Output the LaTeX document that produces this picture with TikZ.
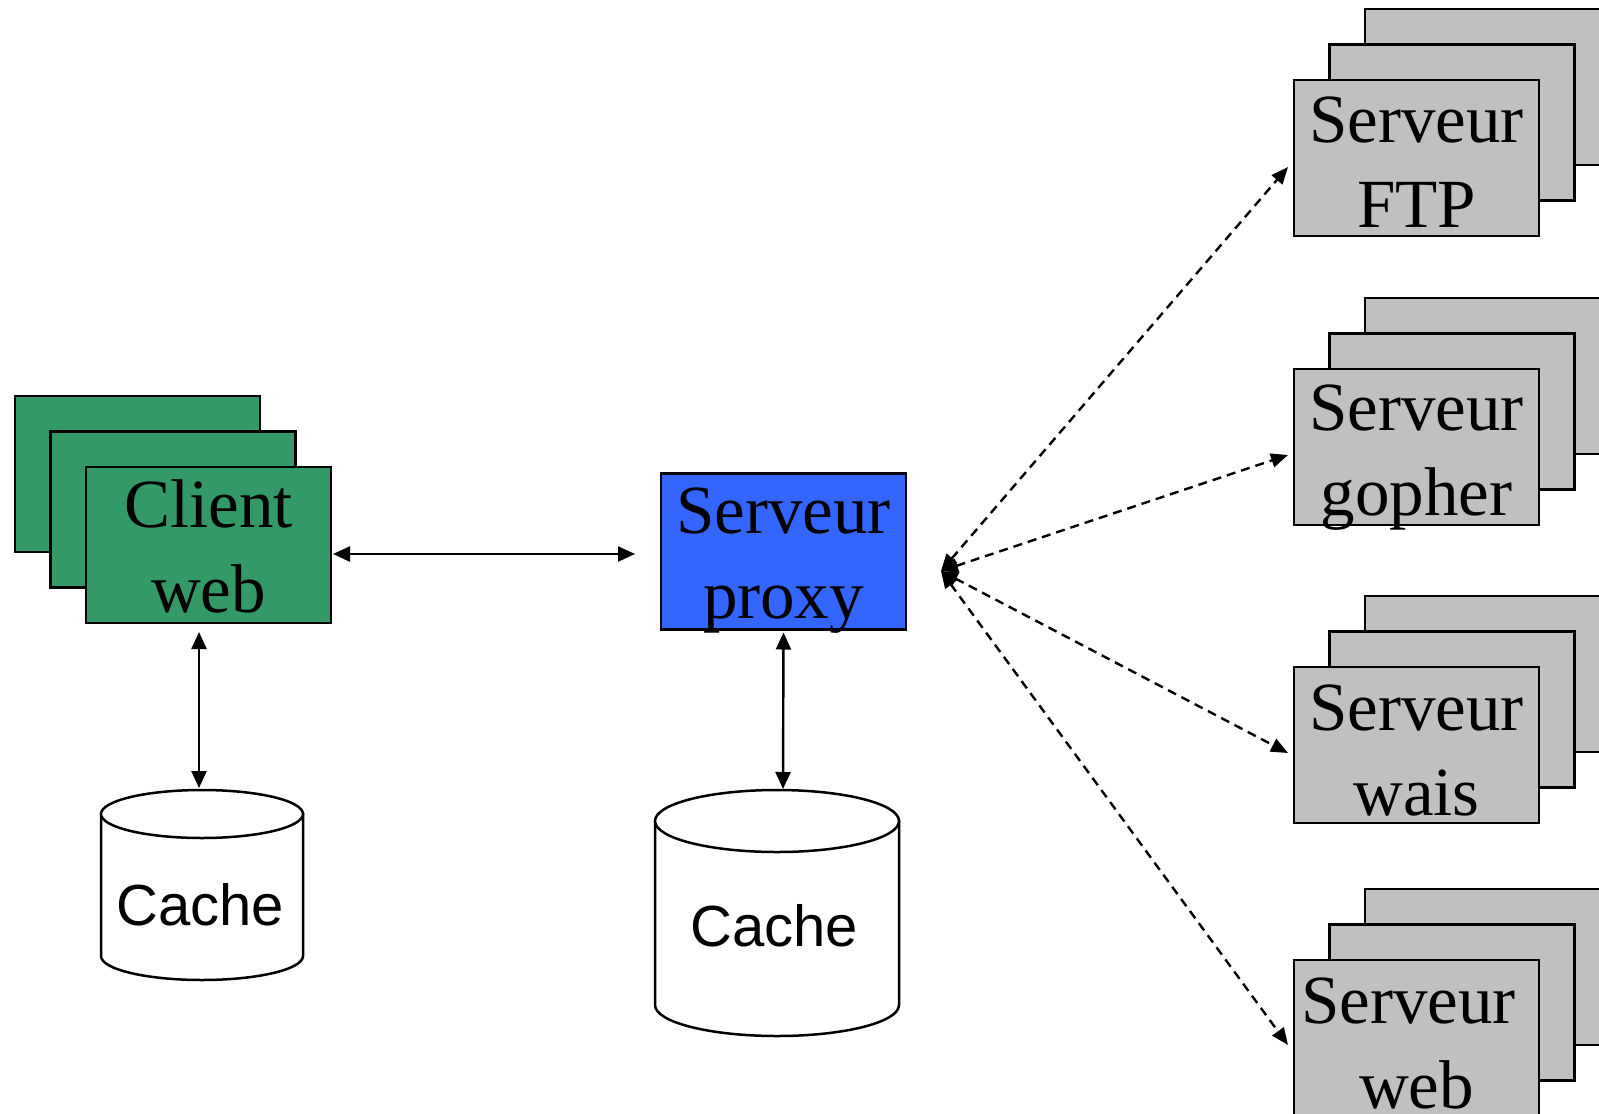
\documentclass[tikz,border=0pt]{standalone}
\usepackage{fontspec}
\setmainfont{Liberation Serif}
\newfontfamily\cachefont{Liberation Sans}
\usetikzlibrary{arrows.meta,calc}
\definecolor{clientgreen}{RGB}{51,153,102}
\definecolor{proxyblue}{RGB}{51,102,255}
\definecolor{servgray}{RGB}{192,192,192}
\begin{document}
\begin{tikzpicture}[x=1pt,y=-1pt,
  box/.style={draw=black, line width=2.5pt, minimum width=245pt, minimum height=156pt, inner sep=0pt, outer sep=0pt},
  gbox/.style={box, fill=clientgreen},
  bbox/.style={box, fill=proxyblue},
  sbox/.style={box, fill=servgray},
  lbl/.style={font=\fontsize{69}{85}\selectfont, inner sep=0pt, anchor=base},
  cachelbl/.style={font=\cachefont\fontsize{58}{70}\selectfont, inner sep=0pt, anchor=base},
  cyl/.style={draw=black, line width=2.5pt, fill=white},
  link/.style={line width=2.4pt, {Triangle[length=17pt,width=15pt]}-{Triangle[length=17pt,width=15pt]}},
  dlink/.style={line width=2.4pt, dash pattern=on 9pt off 6pt, {Triangle[length=17pt,width=14pt]}-{Triangle[length=17pt,width=14pt]}}
]
\clip (0,0) rectangle (1599,1114);
\fill[white] (0,0) rectangle (1599,1114);

% client stack
\node[gbox] (client3) at (137.5,474) {};
\node[gbox] (client2) at (173,509.5) {};
\node[gbox] (client) at (208.5,545) {};
\node[lbl] (clientA) at ($(client.north)+(0,60)$) {Client};
\node[lbl] (clientB) at ($(client.north)+(0,145)$) {web};

% proxy
\node[bbox] (proxy) at (783.5,551.5) {};
\node[lbl] (proxyA) at ($(proxy.north)+(0,60)$) {Serveur};
\node[lbl] (proxyB) at ($(proxy.north)+(0,145)$) {proxy};

% server stacks
\node[sbox] (ftp3) at (1487.5,87) {};
\node[sbox] (ftp2) at (1452,122.5) {};
\node[sbox] (ftp) at (1416.5,158) {};
\node[lbl] (ftpA) at ($(ftp.north)+(0,62)$) {Serveur};
\node[lbl] (ftpB) at ($(ftp.north)+(0,147)$) {FTP};

\node[sbox] (gopher3) at (1487.5,376) {};
\node[sbox] (gopher2) at (1452,411.5) {};
\node[sbox] (gopher) at (1416.5,447) {};
\node[lbl] (gopherA) at ($(gopher.north)+(0,61)$) {Serveur};
\node[lbl] (gopherB) at ($(gopher.north)+(0,146)$) {gopher};

\node[sbox] (wais3) at (1487.5,674) {};
\node[sbox] (wais2) at (1452,709.5) {};
\node[sbox] (wais) at (1416.5,745) {};
\node[lbl] (waisA) at ($(wais.north)+(0,63)$) {Serveur};
\node[lbl] (waisB) at ($(wais.north)+(0,148)$) {wais};

\node[sbox] (web3) at (1487.5,967) {};
\node[sbox] (web2) at (1452,1002.5) {};
\node[sbox] (web) at (1416.5,1038) {};
\node[lbl] (webA) at ($(web.north)+(-8,63)$) {Serveur};
\node[lbl] (webB) at ($(web.north)+(0,148)$) {web};

% caches
\path[cyl] (101,814) -- (101,956) arc[start angle=180,end angle=0,x radius=101,y radius=24] -- (303,814) -- cycle;
\draw[cyl] (202,814) ellipse [x radius=101,y radius=24];
\node[cachelbl] (cache1) at (200,925) {Cache};
\coordinate (c1top) at (199,788);

\path[cyl] (655,821) -- (655,1005) arc[start angle=180,end angle=0,x radius=122,y radius=31] -- (899,821) -- cycle;
\draw[cyl] (777,821) ellipse [x radius=122,y radius=31];
\node[cachelbl] (cache2) at (774,946) {Cache};
\coordinate (c2top) at (783,789);

% solid links
\draw[link] ($(client.east)+(2,9)$) -- ($(proxy.west)+(-26,2.5)$);
\draw[link] ($(client.south)+(-9.5,9)$) -- (c1top);
\draw[link] ($(proxy.south)+(0,3)$) -- (c2top);

% dashed links
\coordinate (hub) at (941,571);
\draw[dlink] (hub) -- ($(ftp.west)+(-6,9)$);
\draw[dlink] (hub) -- ($(gopher.west)+(-6,8)$);
\draw[dlink] (hub) -- ($(wais.west)+(-6,8)$);
\draw[dlink] (hub) -- ($(web.west)+(-6,7)$);
\end{tikzpicture}
\end{document}
